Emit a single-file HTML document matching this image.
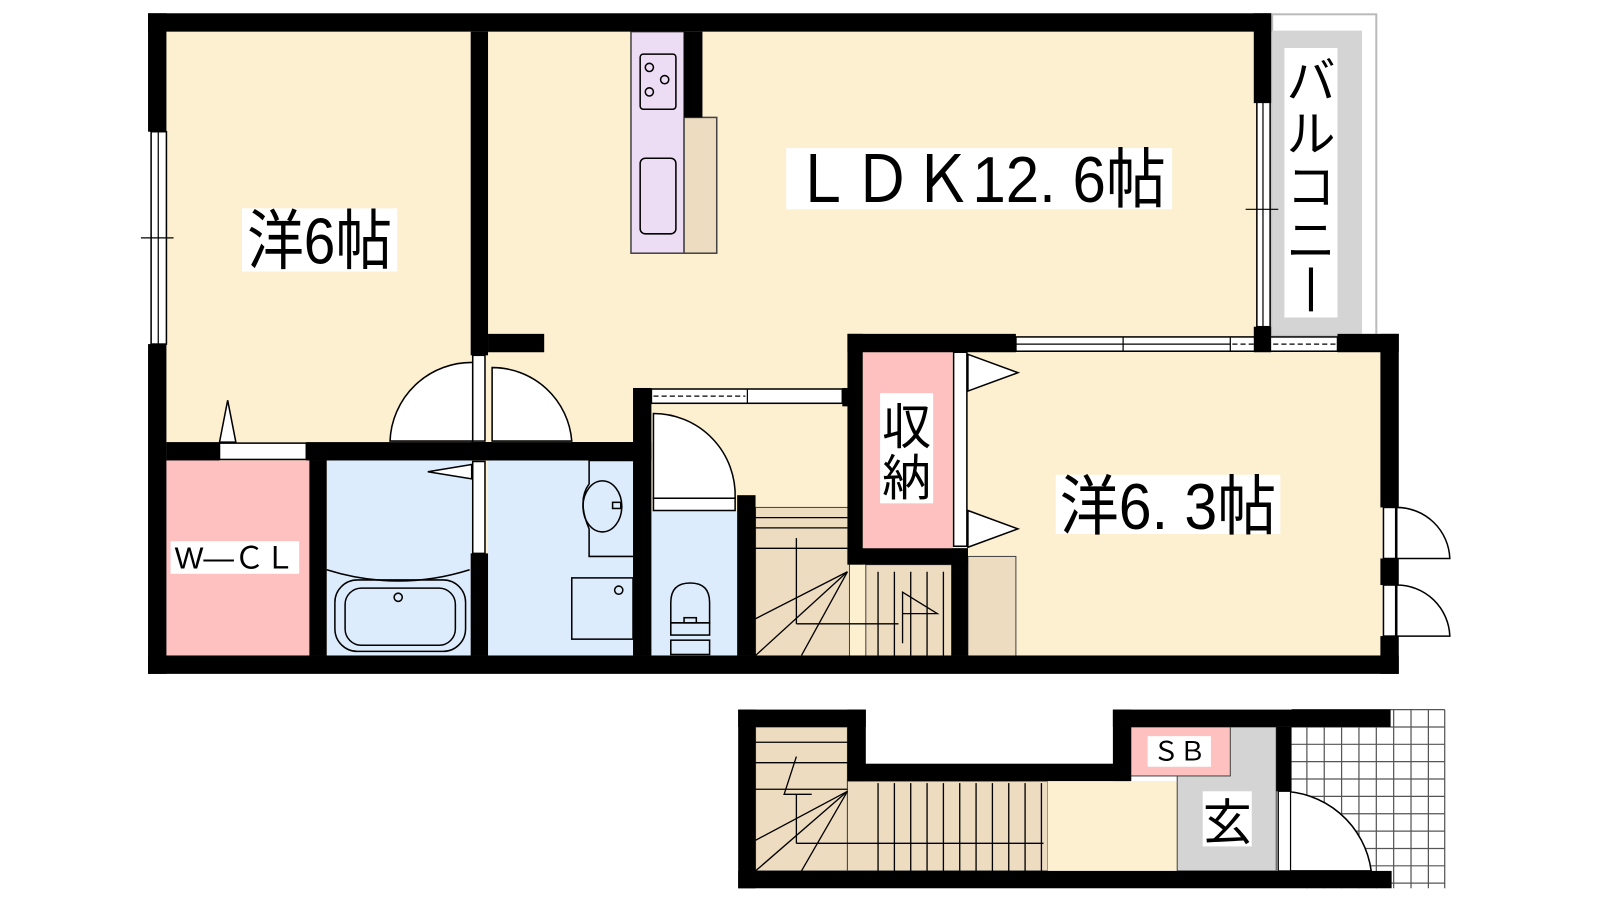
<!DOCTYPE html>
<html><head><meta charset="utf-8"><style>
html,body{margin:0;padding:0;background:#fff;width:1600px;height:900px;overflow:hidden}
svg{display:block}
text{font-family:"Liberation Sans","Noto Sans CJK JP",sans-serif;fill:#000}
</style></head><body>
<svg width="1600" height="900" viewBox="0 0 1600 900" xmlns="http://www.w3.org/2000/svg">
<g transform="scale(1.021)">
<!-- floors -->
<rect x="163" y="31" width="1070" height="612" fill="#fdf0d0"/>
<rect x="940" y="340" width="420" height="303" fill="#fdf0d0"/>
<!-- balcony -->
<rect x="1246" y="14" width="102" height="314" fill="#fff" stroke="#bbb" stroke-width="2"/>
<rect x="1246" y="30" width="88" height="298" fill="#d4d4d4"/>
<rect x="1258" y="47" width="52" height="264" fill="#fff"/>
<!-- kitchen -->
<rect x="618" y="31" width="52" height="217" fill="#ecdcf4" stroke="#444" stroke-width="1.5"/>
<rect x="670" y="115" width="32" height="133" fill="#eedcc0" stroke="#444" stroke-width="1.5"/>
<rect x="627" y="53" width="35" height="54" rx="3" fill="none" stroke="#000" stroke-width="1.5"/>
<circle cx="636" cy="66" r="4" fill="none" stroke="#000" stroke-width="1.5"/>
<circle cx="651" cy="78" r="4" fill="none" stroke="#000" stroke-width="1.5"/>
<circle cx="636" cy="90" r="4" fill="none" stroke="#000" stroke-width="1.5"/>
<rect x="627" y="155" width="35" height="74" rx="5" fill="none" stroke="#000" stroke-width="1.5"/>
<!-- lower rooms -->
<rect x="163" y="451" width="141" height="192" fill="#ffc0c0"/>
<rect x="320" y="451" width="142" height="192" fill="#dcecfc"/>
<rect x="478" y="451" width="142" height="192" fill="#dcecfc"/>
<rect x="638" y="500" width="86" height="143" fill="#dcecfc"/>
<rect x="740" y="497" width="92" height="146" fill="#eedcc0" stroke="#444"/>
<rect x="848" y="553" width="84" height="90" fill="#eedcc0" stroke="#444"/>
<rect x="948" y="545" width="47" height="98" fill="#eedcc0" stroke="#444"/>
<rect x="845" y="345" width="88" height="195" fill="#ffc0c0"/>
<!-- stairs lines upper -->
<g stroke="#000" stroke-width="1.3" fill="none">
<line x1="740" y1="507" x2="830" y2="507"/><line x1="740" y1="517" x2="830" y2="517"/><line x1="740" y1="537" x2="830" y2="537"/>
<line x1="780" y1="527" x2="780" y2="611"/><line x1="780" y1="611" x2="880" y2="611"/>
<line x1="830" y1="560" x2="740" y2="606"/><line x1="830" y1="560" x2="740" y2="642"/><line x1="830" y1="560" x2="785" y2="642"/>
<line x1="860" y1="560" x2="860" y2="642"/><line x1="876" y1="560" x2="876" y2="642"/><line x1="892" y1="560" x2="892" y2="642"/><line x1="908" y1="560" x2="908" y2="642"/><line x1="924" y1="560" x2="924" y2="642"/>
<polyline points="884,630 884,580 918,601 884,601"/>
</g>
<!-- bath fixtures -->
<g stroke="#000" stroke-width="1.5" fill="none">
<path d="M320 558 Q390 580 460 558"/>
<rect x="328" y="568" width="128" height="70" rx="22"/>
<rect x="338" y="576" width="108" height="56" rx="16"/>
<circle cx="390" cy="585" r="4"/>
<path d="M620 451 L577 451 L577 474 Q565 490 577 518 L577 545 L620 545"/>
<ellipse cx="590" cy="496" rx="19" ry="25"/>
<rect x="600" y="492" width="8" height="6"/>
<rect x="560" y="566" width="60" height="60"/>
<circle cx="606" cy="578" r="4"/>
<path d="M657 610 L657 590 Q657 571 676 571 Q695 571 695 590 L695 610 Z"/>
<rect x="657" y="610" width="38" height="12"/><rect x="670" y="605" width="12" height="5"/>
<rect x="657" y="627" width="38" height="14"/>
</g>
<!-- doors -->
<g stroke="#000" stroke-width="1.5" fill="#fff">
<path d="M463 355 A80 80 0 0 0 382 432 L463 432 Z"/>
<path d="M482 360 A78 78 0 0 1 560 432 L482 432 Z"/>
<path d="M640 405 A80 80 0 0 1 720 488 L640 488 Z"/>
<path d="M1368 497 A52 52 0 0 1 1420 547 L1368 547 Z"/>
<path d="M1368 573 A52 52 0 0 1 1420 623 L1368 623 Z"/>
<polygon points="215,433 223,392 231,433"/>
<polygon points="462,455 419,462 462,469"/>
<polygon points="948,347 997,365 948,383"/>
<polygon points="948,500 997,518 948,536"/>
<rect x="215" y="434" width="85" height="16"/>
<rect x="482" y="434" width="78" height="16"/>
<rect x="640" y="488" width="80" height="12"/>
<rect x="463" y="348" width="12" height="84"/>
<rect x="463" y="452" width="12" height="90"/>
<rect x="934" y="345" width="13" height="190"/>
<rect x="1355" y="497" width="12" height="50"/>
<rect x="1355" y="573" width="12" height="50"/>
<!-- windows -->
<rect x="148" y="129" width="15" height="208"/>
<rect x="1231" y="100" width="13" height="220"/>
<rect x="995" y="330" width="315" height="14"/>
<rect x="638" y="381" width="187" height="14"/>
</g>
<g stroke="#000" stroke-width="1.2" fill="none">
<line x1="155" y1="129" x2="155" y2="337"/><line x1="138" y1="233" x2="170" y2="233"/>
<line x1="1237" y1="100" x2="1237" y2="320"/><line x1="1220" y1="205" x2="1252" y2="205"/>
<line x1="1100" y1="330" x2="1100" y2="344"/><line x1="1205" y1="330" x2="1205" y2="344"/><line x1="995" y1="337" x2="1205" y2="337"/>
<line x1="1207" y1="337" x2="1310" y2="337" stroke-dasharray="5,3"/>
<line x1="640" y1="388" x2="730" y2="388" stroke-dasharray="5,3"/><line x1="732" y1="381" x2="732" y2="395"/>
</g>
<!-- walls -->
<g fill="#000">
<rect x="145" y="13" width="1100" height="18"/>
<rect x="145" y="13" width="18" height="116"/>
<rect x="145" y="337" width="18" height="323"/>
<rect x="145" y="642" width="1225" height="18"/>
<rect x="1228" y="13" width="17" height="88"/>
<rect x="1228" y="320" width="17" height="25"/>
<rect x="461" y="31" width="17" height="317"/>
<rect x="478" y="327" width="55" height="18"/>
<rect x="670" y="31" width="18" height="84"/>
<rect x="163" y="433" width="52" height="18"/>
<rect x="300" y="433" width="320" height="18"/>
<rect x="461" y="433" width="21" height="18"/>
<rect x="560" y="433" width="78" height="18"/>
<rect x="303" y="451" width="17" height="191"/>
<rect x="461" y="542" width="17" height="100"/>
<rect x="620" y="380" width="18" height="262"/>
<rect x="722" y="485" width="18" height="157"/>
<rect x="830" y="327" width="165" height="18"/>
<rect x="1310" y="327" width="60" height="18"/>
<rect x="830" y="327" width="15" height="226"/>
<rect x="830" y="537" width="118" height="16"/>
<rect x="932" y="537" width="16" height="105"/>
<rect x="825" y="380" width="10" height="18"/>
<rect x="1352" y="327" width="18" height="170"/>
<rect x="1352" y="547" width="18" height="26"/>
<rect x="1352" y="623" width="18" height="37"/>
</g>
<!-- lower floor -->
<rect x="740" y="712" width="90" height="141" fill="#eedcc0" stroke="#444"/>
<rect x="830" y="765" width="196" height="88" fill="#eedcc0" stroke="#444"/>
<rect x="1026" y="765" width="128" height="88" fill="#fdf0d0"/>
<rect x="1153" y="712" width="97" height="141" fill="#d4d4d4" stroke="#444"/>
<rect x="1107" y="712" width="98" height="48" fill="#ffc0c0" stroke="#444"/>
<g stroke="#555" stroke-width="1.2">
<path d="M1265 695 H1415 M1265 712 H1415 M1265 729 H1415 M1265 746 H1415 M1265 763 H1415 M1265 780 H1415 M1265 797 H1415 M1265 814 H1415 M1265 831 H1415 M1265 848 H1415 M1265 865 H1415"/>
<path d="M1280 695 V870 M1297 695 V870 M1314 695 V870 M1331 695 V870 M1348 695 V870 M1365 695 V870 M1382 695 V870 M1399 695 V870 M1415 695 V870"/>
</g>
<g stroke="#000" stroke-width="1.3" fill="none">
<line x1="740" y1="727" x2="830" y2="727"/><line x1="740" y1="747" x2="830" y2="747"/><line x1="740" y1="773" x2="830" y2="773"/>
<polyline points="780,741 768,778 795,778"/>
<line x1="780" y1="778" x2="780" y2="826"/><line x1="780" y1="826" x2="1022" y2="826"/>
<line x1="830" y1="775" x2="740" y2="823"/><line x1="830" y1="775" x2="740" y2="853"/><line x1="830" y1="775" x2="785" y2="853"/>
<line x1="860" y1="767" x2="860" y2="853"/><line x1="876" y1="767" x2="876" y2="853"/><line x1="892" y1="767" x2="892" y2="853"/><line x1="908" y1="767" x2="908" y2="853"/><line x1="924" y1="767" x2="924" y2="853"/><line x1="940" y1="767" x2="940" y2="853"/><line x1="956" y1="767" x2="956" y2="853"/><line x1="972" y1="767" x2="972" y2="853"/><line x1="988" y1="767" x2="988" y2="853"/><line x1="1004" y1="767" x2="1004" y2="853"/><line x1="1020" y1="767" x2="1020" y2="853"/>
</g>
<path d="M1252 775 A90 90 0 0 1 1343 853 L1252 853 Z" fill="#fff" stroke="#000" stroke-width="1.5"/>
<rect x="1252" y="775" width="12" height="78" fill="#fff" stroke="#000" stroke-width="1.2"/>
<g fill="#000">
<rect x="723" y="695" width="125" height="17"/>
<rect x="723" y="695" width="17" height="175"/>
<rect x="723" y="853" width="640" height="17"/>
<rect x="830" y="695" width="18" height="70"/>
<rect x="830" y="748" width="277" height="17"/>
<rect x="1090" y="695" width="18" height="70"/>
<rect x="1090" y="695" width="272" height="17"/>
<rect x="1250" y="712" width="15" height="63"/>
</g>
<!-- labels -->
<rect x="237" y="204" width="152" height="62" fill="#fff"/>
<text x="313" y="258" font-size="64" text-anchor="middle" textLength="142" lengthAdjust="spacingAndGlyphs">洋6帖</text>
<rect x="770" y="145" width="378" height="60" fill="#fff"/>
<text x="959" y="198" font-size="64" text-anchor="middle" textLength="366" lengthAdjust="spacingAndGlyphs">ＬＤＫ12. 6帖</text>
<rect x="1034" y="465" width="220" height="58" fill="#fff"/>
<text x="1144" y="518" font-size="64" text-anchor="middle" textLength="212" lengthAdjust="spacingAndGlyphs">洋6. 3帖</text>
<rect x="862" y="385" width="52" height="108" fill="#fff"/>
<text x="888" y="435" font-size="48" text-anchor="middle">収</text>
<text x="888" y="485" font-size="48" text-anchor="middle">納</text>
<rect x="167" y="530" width="126" height="32" fill="#fff"/>
<text x="230" y="557" font-size="30" text-anchor="middle" textLength="118" lengthAdjust="spacingAndGlyphs">W—ＣＬ</text>
<rect x="1124" y="721" width="62" height="30" fill="#fff"/>
<text x="1155" y="745" font-size="26" text-anchor="middle">ＳＢ</text>
<rect x="1178" y="775" width="48" height="54" fill="#fff"/>
<text x="1202" y="822" font-size="48" text-anchor="middle">玄</text>
<text x="1284" y="96" font-size="48" text-anchor="middle">バ</text>
<text x="1284" y="148" font-size="48" text-anchor="middle">ル</text>
<text x="1284" y="200" font-size="48" text-anchor="middle">コ</text>
<text x="1284" y="252" font-size="48" text-anchor="middle">ニ</text>
<line x1="1284" y1="262" x2="1284" y2="305" stroke="#000" stroke-width="4"/>
</g>
</svg>
</body></html>
